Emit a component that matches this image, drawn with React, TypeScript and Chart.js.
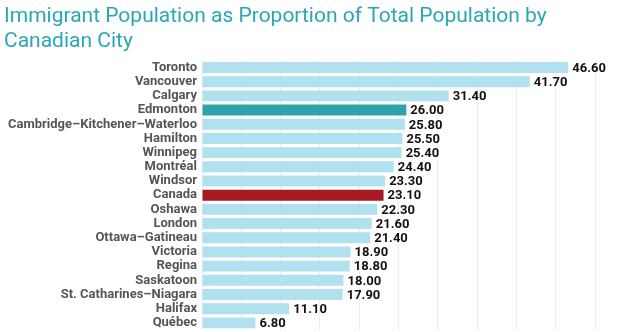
import React, { useEffect, useRef } from "react";
import { Chart, registerables } from "chart.js";

Chart.register(...registerables);

const titleLines = ["Immigrant Population as Proportion of Total Population by", "Canadian City"];
const cities = [
  "Toronto", "Vancouver", "Calgary", "Edmonton", "Cambridge–Kitchener–Waterloo", "Hamilton",
  "Winnipeg", "Montréal", "Windsor", "Canada", "Oshawa", "London", "Ottawa–Gatineau",
  "Victoria", "Regina", "Saskatoon", "St. Catharines–Niagara", "Halifax", "Québec",
];
const values = [46.6, 41.7, 31.4, 26.0, 25.8, 25.5, 25.4, 24.4, 23.3, 23.1, 22.3, 21.6, 21.4, 18.9, 18.8, 18.0, 17.9, 11.1, 6.8];

const BLUE = "#b1e1ef";
const TEAL = "#2fa3ab";
const RED = "#a71a21";

const valueLabels = {
  id: "valueLabels",
  afterDatasetsDraw(chart: any) {
    const ctx = chart.ctx;
    const meta = chart.getDatasetMeta(0);
    ctx.save();
    ctx.font = "bold 13px Roboto";
    ctx.fillStyle = "#111";
    ctx.textAlign = "left";
    ctx.textBaseline = "middle";
    meta.data.forEach((bar: any, i: number) => {
      ctx.fillText(values[i].toFixed(2), bar.x + 4, bar.y + 1);
    });
    ctx.restore();
  },
};

export default function App() {
  const ref = useRef<HTMLCanvasElement>(null);
  useEffect(() => {
    document.body.style.margin = "0";
    const colors = cities.map((c) => (c === "Edmonton" ? TEAL : c === "Canada" ? RED : BLUE));
    const chart = new Chart(ref.current!, {
      type: "bar",
      data: {
        labels: cities,
        datasets: [
          {
            data: values,
            backgroundColor: colors,
            borderWidth: 0,
            barPercentage: 0.77,
            categoryPercentage: 1,
          },
        ],
      },
      plugins: [valueLabels],
      options: {
        indexAxis: "y",
        animation: false,
        responsive: true,
        maintainAspectRatio: false,
        layout: { padding: { left: 4, right: 29, top: 0, bottom: 2 } },
        plugins: {
          legend: { display: false },
          tooltip: { enabled: false },
          title: {
            display: true,
            text: titleLines,
            align: "start",
            color: "#2ba6b6",
            font: { family: "Roboto", size: 21, weight: "normal", lineHeight: 1.2 },
            padding: { top: 4, bottom: 6 },
          },
        },
        scales: {
          x: {
            min: 0,
            max: 50,
            ticks: { display: false, stepSize: 5 },
            grid: { color: "#ececec", drawTicks: false, lineWidth: 1 },
            border: { display: false },
            afterFit(scale: any) {
              scale.height = 0;
              scale.paddingLeft = 0;
              scale.paddingRight = 0;
            },
          },
          y: {
            grid: { display: false, drawTicks: false },
            border: { display: false },
            ticks: {
              color: "#555",
              padding: 5,
              font: { family: "Roboto", size: 13, weight: "bold" },
              autoSkip: false,
            },
            afterFit(scale: any) {
              scale.width = 198;
              scale.paddingTop = 0;
              scale.paddingBottom = 0;
            },
          },
        },
      },
    });
    return () => chart.destroy();
  }, []);
  return (
    <div style={{ position: "absolute", left: 0, top: 0, width: 624, height: 332 }}>
      <canvas ref={ref} />
    </div>
  );
}
